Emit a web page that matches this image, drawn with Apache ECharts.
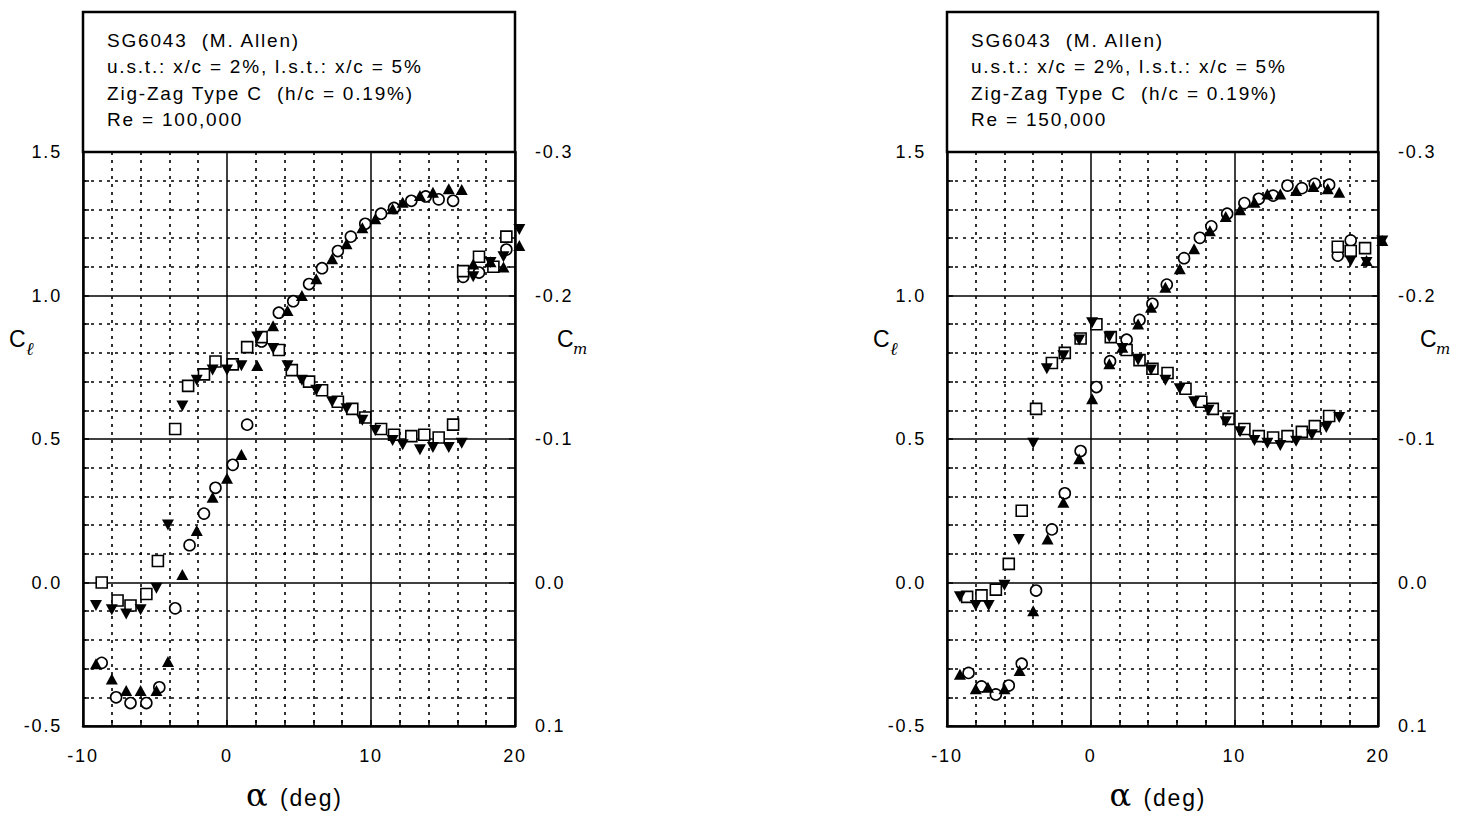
<!DOCTYPE html>
<html>
<head>
<meta charset="utf-8">
<script src="https://cdn.jsdelivr.net/npm/echarts@6/dist/echarts.min.js"></script>
<style>
  html, body { margin: 0; padding: 0; background: #fff; }
  #chart { width: 1463px; height: 817px; letter-spacing: 1.8px; }
</style>
</head>
<body>
<div id="chart"></div>
<script>
// ---------- tick / label text ----------
const infoLines100 = ['SG6043  (M. Allen)', 'u.s.t.: x/c = 2%, l.s.t.: x/c = 5%', 'Zig-Zag Type C  (h/c = 0.19%)', 'Re = 100,000'];
const infoLines150 = ['SG6043  (M. Allen)', 'u.s.t.: x/c = 2%, l.s.t.: x/c = 5%', 'Zig-Zag Type C  (h/c = 0.19%)', 'Re = 150,000'];
const xTitleSymbol = 'α';
const xTitleUnit = '(deg)';

// ---------- Re = 100,000 ----------
// run A : Cl (open circles), Cm (open squares)
const re100_A_alphaCl = [-8.7, -7.7, -6.7, -5.6, -4.7, -3.6, -2.6, -1.6, -0.8, 0.4, 1.4, 2.4, 3.6, 4.6, 5.7, 6.6, 7.7, 8.6, 9.6, 10.7, 11.6, 12.8, 13.8, 14.7, 15.7, 16.4, 17.5, 19.4];
const re100_A_cl      = [-0.28, -0.40, -0.42, -0.42, -0.365, -0.09, 0.13, 0.24, 0.33, 0.41, 0.55, 0.84, 0.94, 0.98, 1.04, 1.095, 1.155, 1.205, 1.25, 1.285, 1.305, 1.33, 1.345, 1.335, 1.33, 1.065, 1.08, 1.16];
const re100_A_alphaCm = [-8.7, -7.6, -6.7, -5.6, -4.8, -3.6, -2.7, -1.6, -0.8, 0.4, 1.4, 2.4, 3.6, 4.5, 5.7, 6.6, 7.7, 8.7, 9.6, 10.7, 11.6, 12.8, 13.7, 14.7, 15.7, 16.4, 17.5, 18.5, 19.4];
const re100_A_cm      = [0.0, 0.0125, 0.016, 0.008, -0.015, -0.107, -0.137, -0.145, -0.154, -0.152, -0.164, -0.171, -0.162, -0.148, -0.140, -0.134, -0.126, -0.121, -0.115, -0.107, -0.103, -0.102, -0.103, -0.101, -0.110, -0.217, -0.227, -0.220, -0.241];
// run B : Cl (filled up-triangles), Cm (filled down-triangles)
const re100_B_alpha = [-9.1, -8.0, -7.0, -6.0, -4.9, -4.1, -3.1, -2.1, -1.0, 0.0, 1.0, 2.1, 3.2, 4.2, 5.2, 6.2, 7.3, 8.3, 9.4, 10.3, 11.5, 12.2, 13.4, 14.3, 15.4, 16.3, 17.1, 18.3, 19.2, 20.3];
const re100_B_cl    = [-0.283, -0.336, -0.376, -0.376, -0.376, -0.275, 0.028, 0.181, 0.297, 0.363, 0.446, 0.756, 0.895, 0.948, 1.0, 1.058, 1.128, 1.18, 1.236, 1.267, 1.302, 1.325, 1.348, 1.36, 1.372, 1.369, 1.11, 1.118, 1.099, 1.174];
const re100_B_cm    = [0.016, 0.019, 0.022, 0.019, 0.004, -0.040, -0.123, -0.141, -0.148, -0.148, -0.151, -0.171, -0.163, -0.151, -0.141, -0.134, -0.126, -0.121, -0.113, -0.106, -0.099, -0.096, -0.0925, -0.094, -0.094, -0.097, -0.213, -0.223, -0.227, -0.246];

// ---------- Re = 150,000 ----------
const re150_A_alphaCl = [-8.5, -7.6, -6.6, -5.7, -4.8, -3.8, -2.7, -1.8, -0.7, 0.4, 1.35, 2.5, 3.4, 4.3, 5.3, 6.5, 7.6, 8.4, 9.5, 10.7, 11.7, 12.7, 13.7, 14.7, 15.6, 16.6, 17.2, 18.1];
const re150_A_cl      = [-0.315, -0.362, -0.39, -0.359, -0.283, -0.028, 0.185, 0.311, 0.458, 0.681, 0.771, 0.846, 0.915, 0.971, 1.038, 1.13, 1.201, 1.241, 1.285, 1.322, 1.337, 1.348, 1.383, 1.374, 1.389, 1.386, 1.139, 1.192];
const re150_A_alphaCm = [-8.6, -7.6, -6.6, -5.7, -4.8, -3.8, -2.7, -1.8, -0.7, 0.4, 1.4, 2.5, 3.4, 4.3, 5.35, 6.6, 7.7, 8.5, 9.6, 10.7, 11.7, 12.7, 13.7, 14.7, 15.6, 16.6, 17.2, 18.1, 19.1];
const re150_A_cm      = [0.010, 0.009, 0.005, -0.013, -0.050, -0.121, -0.153, -0.160, -0.170, -0.180, -0.171, -0.162, -0.155, -0.149, -0.146, -0.135, -0.126, -0.121, -0.114, -0.107, -0.102, -0.101, -0.102, -0.105, -0.109, -0.116, -0.234, -0.231, -0.233];
const re150_B_alphaCl = [-9.1, -8.0, -7.15, -6.0, -4.95, -4.0, -3.0, -1.9, -0.8, 0.1, 1.3, 2.2, 3.3, 4.2, 5.2, 6.2, 7.2, 8.3, 9.4, 10.4, 11.4, 12.3, 13.2, 14.3, 15.5, 16.5, 17.3, 19.2, 20.3];
const re150_B_cl      = [-0.32, -0.37, -0.365, -0.37, -0.307, -0.098, 0.152, 0.28, 0.431, 0.64, 0.762, 0.82, 0.901, 0.959, 1.029, 1.093, 1.163, 1.226, 1.275, 1.299, 1.325, 1.354, 1.354, 1.366, 1.38, 1.372, 1.36, 1.122, 1.192];
const re150_B_alphaCm = [-9.1, -8.0, -7.1, -6.0, -5.0, -4.0, -3.05, -1.9, -0.8, 0.1, 1.3, 2.2, 3.3, 4.2, 5.2, 6.2, 7.2, 8.2, 9.4, 10.4, 11.4, 12.3, 13.2, 14.3, 15.4, 16.4, 17.3, 18.1, 19.2, 20.3];
const re150_B_cm      = [0.010, 0.016, 0.016, 0.002, -0.030, -0.097, -0.149, -0.158, -0.169, -0.181, -0.171, -0.163, -0.155, -0.148, -0.141, -0.135, -0.126, -0.120, -0.112, -0.105, -0.099, -0.097, -0.0955, -0.0985, -0.103, -0.108, -0.115, -0.224, -0.223, -0.238];

// ---------- build chart ----------
const zip = (xs, ys) => xs.map((x, i) => [x, ys[i]]);
const SANS = 'Liberation Sans, Arial, Helvetica, sans-serif';
const BLACK = '#000';

const gridDefs = [
  { left: 83, top: 152, width: 432, height: 574 },
  { left: 947, top: 152, width: 431, height: 574 }
];

function xAxisDef(gi) {
  return {
    gridIndex: gi, type: 'value', min: -10, max: 20, interval: 10,
    axisLine: { show: true, onZero: false, lineStyle: { color: BLACK, width: 2.5 } },
    axisTick: { show: true, inside: true, length: 6, lineStyle: { color: BLACK, width: 1.5 } },
    minorTick: { show: true, splitNumber: 5, length: 6, lineStyle: { color: BLACK, width: 1.5 } },
    axisLabel: { color: BLACK, fontSize: 18, fontFamily: SANS, margin: 21, formatter: v => String(v) },
    splitLine: { show: true, lineStyle: { color: BLACK, width: 1.5 } },
    minorSplitLine: { show: true, lineStyle: { color: BLACK, width: 1.6, type: [3, 5] } }
  };
}
function clAxisDef(gi) {
  return {
    gridIndex: gi, type: 'value', position: 'left', min: -0.5, max: 1.5, interval: 0.5,
    axisLine: { show: true, onZero: false, lineStyle: { color: BLACK, width: 2.5 } },
    axisTick: { show: true, inside: true, length: 6, lineStyle: { color: BLACK, width: 1.5 } },
    minorTick: { show: true, splitNumber: 5, length: 6, lineStyle: { color: BLACK, width: 1.5 } },
    axisLabel: { color: BLACK, fontSize: 18, fontFamily: SANS, margin: 21, formatter: v => v.toFixed(1) },
    splitLine: { show: true, lineStyle: { color: BLACK, width: 1.5 } },
    minorSplitLine: { show: true, lineStyle: { color: BLACK, width: 1.6, type: [3, 5] } }
  };
}
function cmAxisDef(gi) {
  return {
    gridIndex: gi, type: 'value', position: 'right', min: -0.3, max: 0.1, interval: 0.1, inverse: true,
    axisLine: { show: true, onZero: false, lineStyle: { color: BLACK, width: 2.5 } },
    axisTick: { show: true, inside: true, length: 6, lineStyle: { color: BLACK, width: 1.5 } },
    minorTick: { show: true, splitNumber: 5, length: 6, lineStyle: { color: BLACK, width: 1.5 } },
    axisLabel: { color: BLACK, fontSize: 18, fontFamily: SANS, margin: 20,
      formatter: v => (Math.abs(v) < 1e-9 ? '0.0' : v.toFixed(1)) },
    splitLine: { show: false },
    minorSplitLine: { show: false }
  };
}

function openSeries(name, xi, yi, data, symbol) {
  return {
    name, type: 'scatter', xAxisIndex: xi, yAxisIndex: yi, data, symbol,
    symbolSize: 11, clip: false, z: 3,
    itemStyle: { color: '#fff', borderColor: BLACK, borderWidth: 1.6, opacity: 1 },
    emphasis: { disabled: true }
  };
}
function filledSeries(name, xi, yi, data, rot) {
  return {
    name, type: 'scatter', xAxisIndex: xi, yAxisIndex: yi, data, symbol: 'triangle',
    symbolSize: [12, 11], symbolRotate: rot, clip: false, z: 4,
    itemStyle: { color: BLACK, opacity: 1 },
    emphasis: { disabled: true }
  };
}

const series = [
  openSeries('Re100 Cl A', 0, 0, zip(re100_A_alphaCl, re100_A_cl), 'circle'),
  openSeries('Re100 Cm A', 0, 1, zip(re100_A_alphaCm, re100_A_cm), 'rect'),
  filledSeries('Re100 Cl B', 0, 0, zip(re100_B_alpha, re100_B_cl), 0),
  filledSeries('Re100 Cm B', 0, 1, zip(re100_B_alpha, re100_B_cm), 180),
  openSeries('Re150 Cl A', 1, 2, zip(re150_A_alphaCl, re150_A_cl), 'circle'),
  openSeries('Re150 Cm A', 1, 3, zip(re150_A_alphaCm, re150_A_cm), 'rect'),
  filledSeries('Re150 Cl B', 1, 2, zip(re150_B_alphaCl, re150_B_cl), 0),
  filledSeries('Re150 Cm B', 1, 3, zip(re150_B_alphaCm, re150_B_cm), 180)
];

function panelGraphics(g, lines) {
  const right = g.left + g.width;
  const cx = g.left + g.width / 2;
  return [
    { type: 'rect', shape: { x: g.left, y: 12, width: g.width, height: g.top - 12 },
      style: { fill: '#fff', stroke: BLACK, lineWidth: 2.5 }, z: 1 },
    { type: 'text', x: g.left + 24, y: 27, z: 2,
      style: { text: lines.join('\n'), font: '19px ' + SANS, fill: BLACK, lineHeight: 26.5 } },
    // C_l label
    { type: 'text', x: g.left - 74, y: 327, z: 2,
      style: { text: 'C', font: '23px ' + SANS, fill: BLACK } },
    { type: 'text', x: g.left - 57, y: 340, z: 2,
      style: { text: 'ℓ', font: 'italic 18px Liberation Serif, serif', fill: BLACK } },
    // C_m label
    { type: 'text', x: right + 42, y: 327, z: 2,
      style: { text: 'C', font: '23px ' + SANS, fill: BLACK } },
    { type: 'text', x: right + 58, y: 341, z: 2,
      style: { text: 'm', font: 'italic 15px DejaVu Serif, serif', fill: BLACK } },
    // x title: alpha symbol + unit
    { type: 'text', x: cx - 53, y: 795, z: 2,
      style: { text: xTitleSymbol, font: '32px DejaVu Serif, serif', fill: BLACK,
        align: 'left', verticalAlign: 'middle' } },
    { type: 'text', x: cx - 19, y: 798, z: 2,
      style: { text: xTitleUnit, font: '23px ' + SANS, fill: BLACK,
        align: 'left', verticalAlign: 'middle' } }
  ];
}

const chart = echarts.init(document.getElementById('chart'), null, { renderer: 'svg', width: 1463, height: 817 });
chart.setOption({
  animation: false,
  backgroundColor: '#fff',
  grid: gridDefs,
  xAxis: [xAxisDef(0), xAxisDef(1)],
  yAxis: [clAxisDef(0), cmAxisDef(0), clAxisDef(1), cmAxisDef(1)],
  series,
  graphic: [...panelGraphics(gridDefs[0], infoLines100), ...panelGraphics(gridDefs[1], infoLines150)]
});
</script>
</body>
</html>
